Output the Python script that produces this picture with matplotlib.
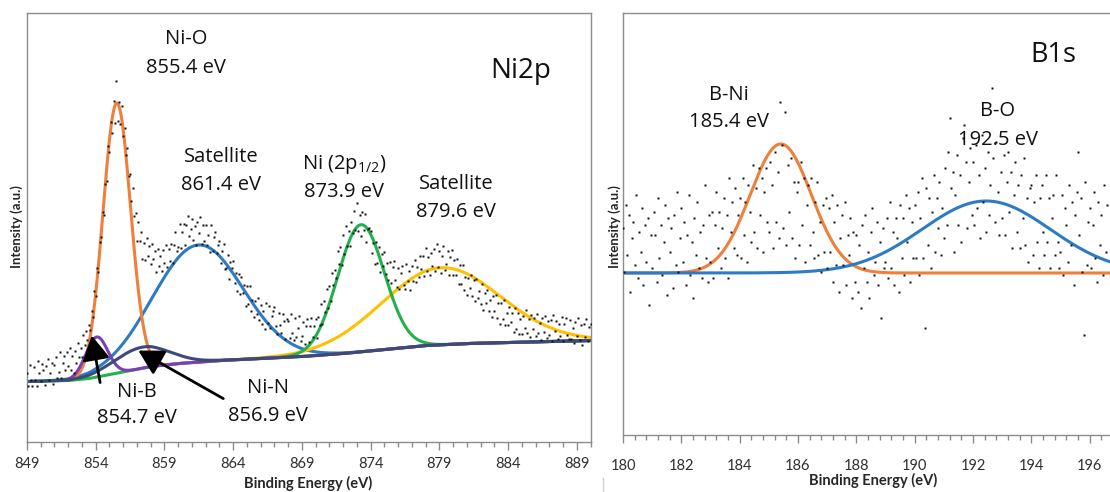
import numpy as np
import matplotlib
matplotlib.use("Agg")
import matplotlib.pyplot as plt
from matplotlib.lines import Line2D

# ---------------- Ni 2p spectrum (height units) ----------------
ni_start, ni_step = 849.0, 0.1
ni_counts = [
    69, 56, 77, 62, 56, 75, 62, 56, 81, 69, 61, 78, 72, 57, 76, 83, 62, 69, 79, 58,
    77, 85, 64, 70, 90, 64, 79, 86, 72, 90, 76, 94, 72, 86, 69, 91, 79, 99, 85, 94,
    85, 107, 97, 111, 102, 117, 112, 131, 125, 150, 145, 173, 169, 199, 204, 229, 226, 257, 260, 295,
    289, 319, 308, 340, 318, 360, 320, 339, 317, 335, 305, 313, 286, 293, 265, 267, 240, 253, 225, 228,
    200, 219, 200, 209, 182, 198, 181, 203, 185, 195, 177, 197, 182, 190, 169, 192, 175, 185, 170, 191,
    178, 196, 174, 192, 180, 197, 178, 196, 209, 190, 194, 217, 193, 209, 217, 196, 216, 225, 205, 212,
    222, 201, 215, 196, 219, 208, 224, 197, 216, 200, 216, 196, 206, 189, 216, 190, 204, 209, 188, 196,
    200, 178, 190, 197, 172, 173, 186, 162, 179, 173, 180, 158, 168, 150, 167, 147, 164, 148, 156, 136,
    155, 138, 155, 131, 142, 125, 141, 128, 143, 122, 137, 118, 131, 113, 139, 119, 136, 114, 126, 131,
    135, 116, 108, 129, 117, 109, 128, 121, 103, 123, 121, 104, 128, 109, 102, 124, 105, 114, 126, 101,
    106, 120, 98, 116, 123, 100, 116, 124, 105, 116, 123, 104, 125, 117, 138, 118, 141, 130, 152, 134,
    155, 141, 168, 156, 171, 163, 190, 177, 194, 176, 206, 187, 215, 195, 210, 195, 219, 208, 230, 211,
    238, 210, 226, 205, 229, 211, 227, 199, 212, 213, 210, 188, 198, 177, 199, 178, 194, 169, 187, 175,
    189, 167, 178, 161, 179, 158, 174, 180, 161, 154, 173, 152, 168, 175, 156, 152, 177, 160, 170, 151,
    175, 160, 181, 159, 174, 164, 185, 172, 185, 165, 193, 170, 184, 166, 188, 175, 192, 170, 197, 174,
    190, 168, 185, 195, 171, 177, 190, 166, 184, 191, 166, 181, 166, 182, 157, 176, 157, 176, 151, 164,
    146, 163, 153, 166, 145, 161, 141, 162, 143, 150, 138, 157, 132, 148, 139, 151, 131, 142, 125, 145,
    131, 146, 124, 139, 118, 139, 123, 142, 117, 129, 117, 135, 120, 129, 110, 134, 113, 129, 108, 123,
    108, 126, 114, 132, 109, 123, 105, 127, 113, 124, 106, 128, 109, 119, 102, 124, 110, 126, 104, 121,
    107, 122, 101, 127, 111, 121, 103, 118, 106, 125, 101, 118, 124, 107, 103, 122, 103, 114, 99, 120,
    106, 124, 102, 117, 97, 118, 105, 123, 101, 115, 118,
]

ni_bg_energy = [849, 852, 853.5, 855, 856.5, 858, 860, 863, 866, 869, 872, 875, 878, 881, 884, 887, 890]
ni_bg_height = [60, 61, 63, 67, 71, 75, 78, 81, 83, 85, 88, 92, 96, 98, 99, 100, 101]

ni_centers = [861.46, 879.1, 873.3, 855.53, 854.07, 857.35]
ni_amps = [117, 77, 127, 270, 40, 21]
ni_sigmas = [3.25, 4.3, 1.7, 1.0, 0.8, 2.0]
ni_starts = [849.0, 864.0, 849.0, 852.1, 851.9, 849.0]
ni_colors = ["#2C7BC4", "#FFC000", "#22B14C", "#EF7F3A", "#7B3FB5", "#3C4A78"]

ni_texts = ["Ni-O", "855.4 eV", "Satellite", "861.4 eV", r"Ni (2p$_{\mathrm{1/2}}$)", "873.9 eV",
            "Satellite", "879.6 eV", "Ni-B", "854.7 eV", "Ni-N", "856.9 eV"]
ni_text_xy = [(860.6, 402), (860.6, 373), (863.1, 284), (863.1, 256), (872.1, 277), (872.1, 249),
              (880.2, 257), (880.2, 229), (857.0, 50), (857.0, 24), (866.5, 54), (866.5, 26)]

# ---------------- B 1s spectrum (counts) ----------------
b_start, b_step = 180.0, 0.05
b_counts = [
    62, 49, 69, 54, 66, 43, 59, 64, 51, 72, 47, 61, 55, 68, 45, 63, 52, 65, 39, 60,
    50, 67, 60, 46, 71, 53, 63, 48, 58, 69, 42, 65, 55, 62, 44, 66, 51, 73, 49, 59,
    68, 52, 64, 45, 60, 72, 48, 58, 41, 65, 54, 70, 50, 61, 47, 63, 75, 53, 46, 66,
    52, 67, 47, 63, 73, 56, 67, 50, 62, 71, 53, 66, 47, 77, 61, 70, 56, 74, 54, 66,
    71, 53, 77, 60, 70, 52, 75, 67, 58, 81, 61, 74, 56, 80, 66, 77, 55, 73, 80, 64,
    61, 82, 75, 56, 85, 64, 79, 59, 100, 87, 62, 97, 57, 81, 67, 83, 59, 76, 53, 73,
    76, 57, 82, 63, 77, 52, 69, 75, 57, 77, 61, 53, 70, 76, 54, 64, 49, 69, 55, 71,
    50, 68, 55, 72, 46, 64, 51, 69, 43, 59, 66, 51, 70, 45, 60, 54, 65, 41, 61, 46,
    60, 43, 57, 38, 63, 50, 66, 46, 55, 41, 61, 68, 48, 52, 64, 45, 58, 35, 62, 50,
    52, 65, 47, 70, 50, 61, 45, 65, 59, 43, 69, 53, 65, 48, 72, 58, 68, 46, 64, 53,
    69, 53, 73, 48, 65, 77, 53, 32, 74, 57, 71, 50, 67, 78, 55, 71, 62, 76, 54, 68,
    59, 80, 63, 85, 95, 74, 79, 55, 72, 84, 63, 78, 58, 89, 93, 82, 62, 76, 86, 66,
    82, 63, 87, 68, 78, 59, 90, 70, 80, 61, 85, 66, 75, 104, 83, 64, 88, 73, 60, 79,
    65, 84, 60, 76, 85, 67, 79, 56, 72, 82, 61, 75, 56, 78, 65, 83, 57, 71, 52, 74,
    75, 54, 70, 78, 58, 50, 71, 75, 61, 54, 78, 58, 71, 50, 65, 72, 54, 78, 58, 50,
    55, 72, 48, 68, 63, 52, 75, 57, 70, 45, 66, 73, 85, 60, 71, 49, 30, 76, 51, 64,
    68, 50, 63, 73, 53, 46, 70, 57, 66, 48, 75, 55, 69,
]
b_baseline = 48.6
b_centers = [185.41, 192.45]
b_amps = [38.7, 21.6]
b_sigmas = [1.05, 2.2]
b_colors = ["#EF7F3A", "#2C7BC4"]
b_texts = ["B-Ni", "185.4 eV", "B-O", "192.5 eV"]
b_text_xy = [(183.63, 102.0), (183.63, 93.8), (192.84, 97.2), (192.85, 88.6)]

# ---------------- drawing ----------------
plt.rcParams["mathtext.fontset"] = "custom"
plt.rcParams["mathtext.rm"] = "Open Sans"
plt.rcParams["mathtext.it"] = "Open Sans:italic"

ANN = dict(family="Open Sans", fontsize=14.5, color="#111111", ha="center", va="center")
SPINE = "#8c8c8c"
TICKLAB = "#2f2f2f"

fig = plt.figure(figsize=(11.1, 4.92), dpi=100)
W, H = 1110.0, 492.0

ax1 = fig.add_axes([27 / W, (H - 441.6) / H, 563.5 / W, 428.3 / H])
ax2 = fig.add_axes([623 / W, (H - 435) / H, 490 / W, 421.7 / H])


def gauss(x, c, a, s):
    return a * np.exp(-((x - c) ** 2) / (2 * s * s))


# --- Ni 2p panel
ni_x = ni_start + ni_step * np.arange(len(ni_counts))
xx = np.linspace(849, 890, 1200)
bg = np.interp(xx, ni_bg_energy, ni_bg_height)
for c, a, s, x0, col in zip(ni_centers, ni_amps, ni_sigmas, ni_starts, ni_colors):
    m = xx >= x0
    ax1.plot(xx[m], bg[m] + gauss(xx[m], c, a, s), color=col, lw=2.2, zorder=2,
             solid_capstyle="round")
ax1.plot(ni_x, ni_counts, ls="none", marker="s", ms=2.0, mec="none", mfc="#111111", zorder=3)

for t, (x, y) in zip(ni_texts, ni_text_xy):
    ax1.text(x, y, t, **ANN)
ax1.text(884.9, 370, "Ni2p", family="Open Sans", fontsize=20, ha="center", va="center", color="#111111")

arrow_kw = dict(arrowstyle="-|>,head_length=0.75,head_width=0.42", lw=2.0, color="black",
                shrinkA=0, shrinkB=0, mutation_scale=20)
ax1.annotate("", xy=(853.71, 106), xytext=(854.32, 59), arrowprops=arrow_kw, zorder=5)
ax1.annotate("", xy=(857.1, 91), xytext=(863.28, 43), arrowprops=arrow_kw, zorder=5)

ax1.set_xlim(849, 890)
ax1.set_ylim(0, 428)
ax1.set_xticks(np.arange(849, 890, 5))
ax1.set_xticks(np.arange(849, 891, 1), minor=True)
ax1.set_yticks([])

# --- B 1s panel
b_x = b_start + b_step * np.arange(len(b_counts))
bx = np.linspace(180, 196.8, 800)
for c, a, s, col in zip(b_centers, b_amps, b_sigmas, b_colors):
    ax2.plot(bx, b_baseline + gauss(bx, c, a, s), color=col, lw=2.2, zorder=2)
ax2.plot(b_x, b_counts, ls="none", marker="s", ms=2.0, mec="none", mfc="#111111", zorder=3)
for t, (x, y) in zip(b_texts, b_text_xy):
    ax2.text(x, y, t, **ANN)
ax2.text(194.77, 114.0, "B1s", family="Open Sans", fontsize=19.5, ha="center", va="center", color="#111111")

ax2.set_xlim(180, 180 + 490 / 29.31)
ax2.set_ylim(0, 126.5)
ax2.set_xticks(np.arange(180, 197, 2))
ax2.set_xticks(np.arange(180, 196.9, 0.4), minor=True)
ax2.set_yticks([])
ax2.spines["right"].set_visible(False)

for ax, pad in ((ax1, 5), (ax2, 11)):
    for sp in ax.spines.values():
        sp.set_color(SPINE)
        sp.set_linewidth(1.0)
    ax.tick_params(axis="x", which="major", direction="out", length=6, width=1, color=SPINE,
                   labelsize=10.5, labelcolor=TICKLAB, pad=pad)
    ax.tick_params(axis="x", which="minor", direction="out", length=3.5, width=1, color=SPINE)
    for lab in ax.get_xticklabels():
        lab.set_family("Lato")

LAB = dict(family="Lato", fontweight="bold", fontsize=10.5, color="#262626", ha="center", va="center")
fig.text(308 / W, 1 - 483 / H, "Binding Energy (eV)", **LAB)
fig.text(873 / W, 1 - 480 / H, "Binding Energy (eV)", **LAB)
YL = dict(family="Lato", fontweight="bold", fontsize=9.5, color="#262626", ha="center", va="center",
          rotation=90)
fig.text(17 / W, 1 - 227 / H, "Intensity (a.u.)", **YL)
fig.text(615 / W, 1 - 227 / H, "Intensity (a.u.)", **YL)

fig.add_artist(Line2D([603 / W, 603 / W], [0, 14 / H], color="#d0d0d0", lw=1.0))

fig.savefig("out.png", dpi=100)
